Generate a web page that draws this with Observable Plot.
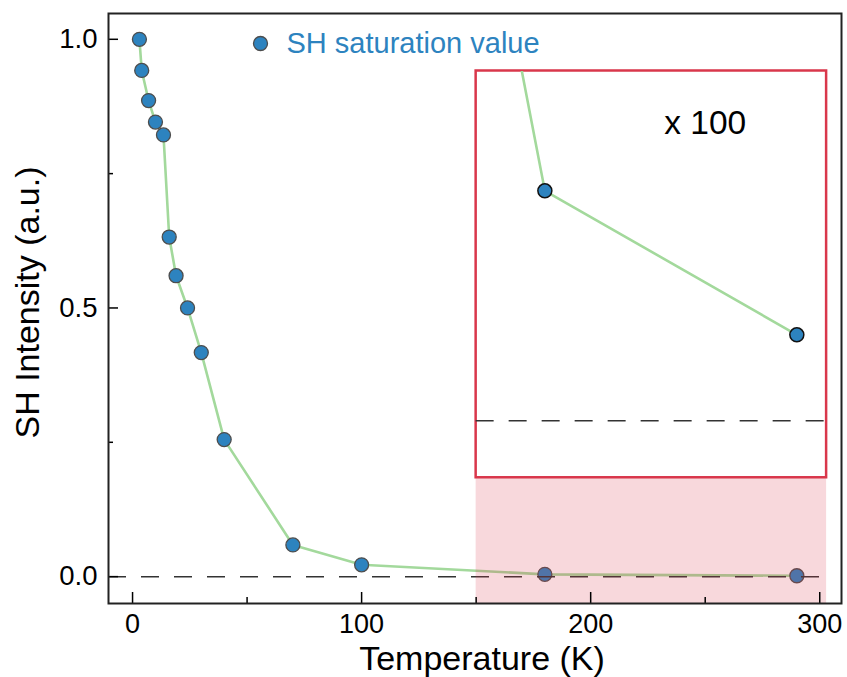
<!DOCTYPE html>
<html>
<head>
<meta charset="utf-8">
<script src="https://cdn.jsdelivr.net/npm/d3@7"></script>
<script src="https://cdn.jsdelivr.net/npm/@observablehq/plot@0.6"></script>
<style>
  html, body { margin: 0; padding: 0; background: #fff; }
</style>
</head>
<body>
<div id="chart"></div>
<script>
// ---- data ----
const temperature = [3, 4, 7, 10, 13.5, 16, 19, 24, 30, 40, 70, 100, 180, 290];
const shIntensity = [1.0, 0.942, 0.886, 0.846, 0.822, 0.632, 0.560, 0.500, 0.417, 0.255, 0.059, 0.022, 0.00428, 0.0016];

const xMajorTicks = [0, 100, 200, 300];
const xMinorTicks = [50, 150, 250];
const yMajorTicks = [0, 0.5, 1.0];
const yMinorTicks = [0.25, 0.75];

const legendLabel = "SH saturation value";
const insetLabel = "x 100";
const xLabel = "Temperature (K)";
const yLabel = "SH Intensity (a.u.)";

// inset (zoomed region) definition
const insetFactor = 100;      // magnification
const insetBase = 0.29;       // where zero sits inside the inset
const insetX = [150, 303];
const insetY = [0.184, 0.941];
const insetMinT = 100;        // points feeding the magnified line
const insetLabelPos = {x: 250, y: 0.843};

const xDomain = [-10.5, 309.5];
const yDomain = [-0.05, 1.048];

// ---- derived tables ----
const points = temperature.map((t, i) => ({t, v: shIntensity[i]}));
const insetPoints = points
  .filter(d => d.t >= insetMinT)
  .map(d => ({t: d.t, v: insetBase + d.v * insetFactor}));
const insetDots = insetPoints.filter(d => d.t >= insetX[0]);

const blue = "#2d83bf";
const green = "#a3d99c";
const red = "#d9374b";
const font = "'Liberation Sans', Arial, Helvetica, sans-serif";

const plot = Plot.plot({
  width: 847,
  height: 677,
  marginLeft: 108,
  marginRight: 6,
  marginTop: 13,
  marginBottom: 74,
  style: {fontFamily: font, background: "#fff", color: "#000"},
  x: {domain: xDomain},
  y: {domain: yDomain},
  marks: [
    // main series
    Plot.line(points, {x: "t", y: "v", stroke: green, strokeWidth: 2.6}),
    Plot.dot(points, {x: "t", y: "v", r: 7, fill: blue, stroke: "#4d4d4d", strokeWidth: 1.3}),
    // zero reference
    Plot.ruleY([0], {x1: xDomain[0], x2: insetX[1], stroke: "#333", strokeWidth: 1.5, strokeDasharray: "18,15"}),
    // shaded zoom region
    Plot.rect([{}], {x1: insetX[0], x2: insetX[1], y1: yDomain[0], y2: insetY[0], fill: "#dc3c50", fillOpacity: 0.2}),
    // inset box
    Plot.rect([{}], {x1: insetX[0], x2: insetX[1], y1: insetY[0], y2: insetY[1], fill: "none", stroke: red, strokeWidth: 2.5}),
    Plot.ruleY([insetBase], {x1: insetX[0], x2: insetX[1], stroke: "#333", strokeWidth: 1.5, strokeDasharray: "18,15"}),
    Plot.line(insetPoints, {x: "t", y: "v", stroke: green, strokeWidth: 2.6}),
    Plot.dot(insetDots, {x: "t", y: "v", r: 7, fill: blue, stroke: "#111", strokeWidth: 1.5}),
    Plot.text([insetLabel], {x: insetLabelPos.x, y: insetLabelPos.y, text: d => d, fontSize: 33.5, fill: "#000", textAnchor: "middle", lineAnchor: "middle"}),
    // legend
    Plot.dot([legendLabel], {frameAnchor: "top-left", dx: 152, dy: 30, r: 7, fill: blue, stroke: "#4d4d4d", strokeWidth: 1.3}),
    Plot.text([legendLabel], {frameAnchor: "top-left", dx: 178, dy: 30, text: d => d, fontSize: 29, fill: blue, textAnchor: "start", lineAnchor: "middle"}),
    // axes: labels
    Plot.axisX({ticks: xMajorTicks, tickSize: 0, tickPadding: 10, fontSize: 27, tickFormat: d3.format("d"), label: null}),
    Plot.axisY({ticks: yMajorTicks, tickSize: 0, tickPadding: 11, fontSize: 27.5, tickFormat: d3.format(".1f"), label: null}),
    // axes: inward ticks
    Plot.axisX({ticks: xMajorTicks, tickSize: -11, tickFormat: () => "", label: null, strokeWidth: 1.5}),
    Plot.axisX({ticks: xMinorTicks, tickSize: -6, tickFormat: () => "", label: null, strokeWidth: 1.5}),
    Plot.axisY({ticks: yMajorTicks, tickSize: -10, tickFormat: () => "", label: null, strokeWidth: 1.5}),
    Plot.axisY({ticks: yMinorTicks, tickSize: -5, tickFormat: () => "", label: null, strokeWidth: 1.5}),
    Plot.frame({stroke: "#222", strokeWidth: 2}),
    // axis titles
    Plot.text([xLabel], {frameAnchor: "bottom", dx: 7, dy: 66, text: d => d, fontSize: 34, fill: "#000", textAnchor: "middle", lineAnchor: "bottom"}),
    Plot.text([yLabel], {frameAnchor: "left", dx: -80, dy: -6, rotate: -90, text: d => d, fontSize: 34, fill: "#000", textAnchor: "middle", lineAnchor: "middle"})
  ]
});

// clip the magnified line to the inset box
const sx = plot.scale("x"), sy = plot.scale("y");
const svg = d3.select(plot.tagName.toLowerCase() === "svg" ? plot : plot.querySelector("svg"));
const cx0 = sx.apply(insetX[0]), cx1 = sx.apply(insetX[1]);
const cy0 = sy.apply(insetY[1]), cy1 = sy.apply(insetY[0]);
svg.append("defs").append("clipPath").attr("id", "insetClip")
  .append("rect").attr("x", cx0).attr("y", cy0).attr("width", cx1 - cx0).attr("height", cy1 - cy0);
svg.selectAll('g[aria-label="line"]').filter((d, i) => i === 1).attr("clip-path", "url(#insetClip)");

document.getElementById("chart").appendChild(plot);
</script>
</body>
</html>
